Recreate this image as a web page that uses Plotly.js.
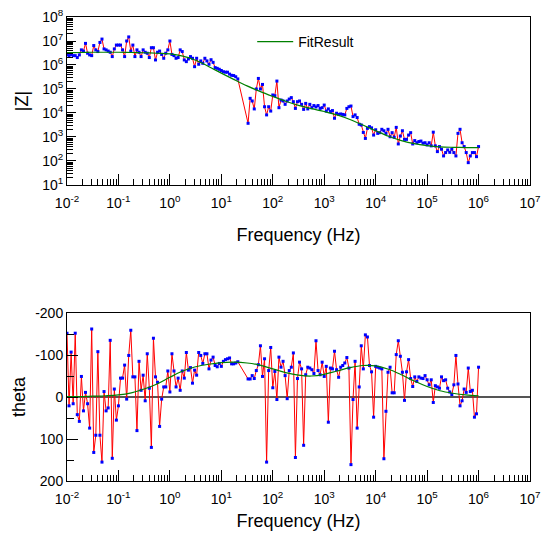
<!DOCTYPE html>
<html>
<head>
<meta charset="utf-8">
<script src="https://cdn.plot.ly/plotly-3.0.1.min.js"></script>
<style>html,body{margin:0;padding:0;background:#fff;}#chart{width:542px;height:542px;}</style>
</head>
<body>
<div id="chart"></div>
<script>
// Measured frequencies, stored as log10(f / Hz)
const logFreq = [
-2.00,-1.96,-1.92,-1.88,-1.84,-1.80,-1.76,-1.72,-1.68,-1.64,
-1.60,-1.56,-1.52,-1.48,-1.44,-1.40,-1.36,-1.32,-1.28,-1.24,
-1.20,-1.16,-1.12,-1.08,-1.04,-1.00,-0.96,-0.92,-0.88,-0.84,
-0.80,-0.76,-0.72,-0.68,-0.64,-0.60,-0.56,-0.52,-0.48,-0.44,
-0.40,-0.36,-0.32,-0.28,-0.24,-0.20,-0.16,-0.12,-0.08,-0.04,
0.00,0.04,0.08,0.12,0.16,0.20,0.24,0.28,0.32,0.36,
0.40,0.44,0.48,0.52,0.56,0.60,0.64,0.68,0.72,0.76,
0.80,0.84,0.88,0.92,0.96,1.00,1.04,1.08,1.12,1.16,
1.20,1.24,1.28,1.32,
1.52,1.56,1.60,1.64,1.68,1.72,1.76,1.80,1.84,1.88,
1.92,1.96,2.00,2.04,2.08,2.12,2.16,2.20,2.24,2.28,
2.32,2.36,2.40,2.44,2.48,2.52,2.56,2.60,2.64,2.68,
2.72,2.76,2.80,2.84,2.88,2.92,2.96,3.00,3.04,3.08,
3.12,3.16,3.20,3.24,3.28,3.32,3.36,3.40,3.44,3.48,
3.52,3.56,3.60,3.64,3.68,3.72,3.76,3.80,3.84,3.88,
3.92,3.96,4.00,4.04,
4.08,4.12,4.16,4.20,4.24,4.28,4.32,4.36,4.40,4.44,
4.48,4.52,4.56,4.60,4.64,4.68,4.72,4.76,4.80,4.84,
4.88,4.92,4.96,5.00,5.04,5.08,5.12,5.16,5.20,5.24,
5.28,5.32,5.36,5.40,5.44,5.48,5.52,5.56,5.60,5.64,
5.68,5.72,5.76,5.80,5.84,5.88,5.92,5.96,6.00
];

// Measured impedance magnitude, stored as log10(|Z|)
const logZ = [
6.44,6.39,6.44,6.39,6.39,6.31,6.42,6.63,6.58,6.90,
6.49,6.42,6.39,6.81,6.63,6.56,6.94,7.08,6.67,6.63,
6.58,6.53,6.35,6.67,6.83,6.83,6.83,6.63,6.35,7.00,
7.17,6.58,6.83,6.35,6.63,6.53,6.35,6.63,6.53,6.49,
6.31,6.72,6.72,6.21,6.53,6.58,6.44,6.28,6.49,6.63,
7.00,6.44,6.39,6.28,6.31,6.63,6.56,6.21,6.14,6.25,
6.35,6.28,5.93,6.28,6.03,6.17,6.07,6.28,6.17,6.03,
6.22,6.11,5.89,5.86,5.82,5.77,5.72,5.70,5.70,5.62,
5.57,5.56,5.51,5.42,
3.57,4.61,4.50,4.17,5.00,5.44,5.00,5.19,4.26,3.92,
4.26,4.08,4.75,4.72,5.33,4.22,4.54,4.50,4.36,4.50,
4.58,4.64,4.47,4.19,4.47,4.50,4.36,4.15,4.40,4.17,
4.36,4.22,4.31,4.25,4.31,4.19,4.22,4.33,4.08,4.17,
4.06,4.10,3.78,3.99,3.94,3.96,3.94,3.92,4.19,4.26,
4.29,3.85,3.92,3.81,3.53,3.50,3.19,2.94,3.36,3.43,
3.38,3.08,3.30,3.15,
3.18,3.32,3.26,3.15,3.32,3.01,3.18,2.99,3.40,2.71,
3.04,3.26,2.90,2.90,3.08,3.18,2.71,2.85,2.76,2.81,
2.83,2.74,2.76,2.67,2.76,2.63,3.20,2.63,2.39,2.60,
2.49,2.21,2.35,2.46,2.36,2.49,2.35,2.21,3.15,3.32,
2.76,2.60,2.35,1.93,2.21,2.35,2.35,2.18,2.60
];

// Measured phase angle (degrees)
const theta = [
-152,21,-107,16,-152,42,58,-49,33,-11,
16,74,-162,132,91,-108,91,155,-13,33,
26,-135,146,-19,55,21,-45,-45,-76,5,
-99,-159,-48,-48,80,-85,-16,-52,9,-103,
-21,120,-140,-48,-35,70,5,-24,-24,-62,
-12,-103,-62,-24,-45,-16,-62,-45,-106,-64,
-70,-33,-64,-52,-106,-99,-80,-103,-103,-67,
-88,-95,-75,-72,-80,-73,-85,-89,-91,-93,
-79,-79,-81,-84,
-43,-43,-51,-44,-63,-77,-122,-49,-91,155,
-63,-118,-22,-61,6,-95,-71,-85,-51,4,
-63,-71,-105,144,-44,-83,-67,115,-53,-71,
-69,-65,-56,-134,-63,-53,-83,-49,-73,60,
-69,-67,-109,-65,-47,-71,-75,-81,-94,-69,
161,6,-85,74,-24,-122,-67,-148,-143,-75,
-60,48,-73,-71,
-69,-67,147,34,-59,-71,-10,-10,-101,-134,
-97,-59,8,-60,-89,-44,-25,-48,-37,-48,
-45,-44,-51,-41,-29,-41,13,-27,-24,-21,
-48,-39,-41,-21,-12,-6,-29,-99,-31,21,
9,-19,-11,-69,-13,-16,48,40,-71
];

// Fit result
const fitLogFreq = [-2,-1.75,-1.5,-1.25,-1,-0.75,-0.5,-0.25,0,0.25,0.5,0.75,1,1.25,1.5,1.75,2,2.25,2.5,2.75,3,3.25,3.5,3.75,4,4.25,4.5,4.75,5,5.25,5.5,5.75,6];
const fitLogZ = [6.52,6.52,6.53,6.53,6.53,6.52,6.51,6.49,6.46,6.37,6.20,5.94,5.66,5.39,5.13,4.90,4.69,4.49,4.32,4.18,4.06,3.92,3.73,3.50,3.26,3.03,2.85,2.72,2.64,2.59,2.57,2.56,2.56];
const fitTheta = [-1,-1,-2,-3,-5,-10,-19,-31,-47,-62,-72,-78,-82,-83,-81,-76,-67,-58,-52,-50,-54,-62,-70,-75,-74,-66,-53,-38,-25,-15,-9,-5,-3];

// Tick labels
const freqTickVals = [1e-2,1e-1,1e0,1e1,1e2,1e3,1e4,1e5,1e6,1e7];
const freqTickText = ['10<sup>-2</sup>','10<sup>-1</sup>','10<sup>0</sup>','10<sup>1</sup>','10<sup>2</sup>','10<sup>3</sup>','10<sup>4</sup>','10<sup>5</sup>','10<sup>6</sup>','10<sup>7</sup>'];
const zTickVals = [1e1,1e2,1e3,1e4,1e5,1e6,1e7,1e8];
const zTickText = ['10<sup>1</sup>','10<sup>2</sup>','10<sup>3</sup>','10<sup>4</sup>','10<sup>5</sup>','10<sup>6</sup>','10<sup>7</sup>','10<sup>8</sup>'];
const thetaTickVals = [-200,-100,0,100,200];
const thetaTickText = ['-200','-100','0','100','200'];
const thetaMinorVals = [-150,-50,50,150];

// build helpers
const pow10 = v => Math.pow(10, v);
const freq = logFreq.map(pow10);
const zMag = logZ.map(pow10);
const fitFreq = fitLogFreq.map(pow10);
const fitZ = fitLogZ.map(pow10);
function logMinors(lo, hi) {
  const out = [];
  for (let e = lo; e < hi; e++) for (let k = 2; k <= 9; k++) out.push(k * Math.pow(10, e));
  return out;
}
const freqMinor = logMinors(-2, 7);
const zMinor = logMinors(1, 8);

const FONT = 'Liberation Sans, Arial, Helvetica, sans-serif';
const axisBase = {
  showline: true, linecolor: '#000', linewidth: 1, mirror: true,
  showgrid: false, zeroline: false,
  ticks: 'inside', tickcolor: '#000', tickwidth: 1,
  tickfont: {family: FONT, size: 14, color: '#000'}
};
function xAxis(anchor, standoff) {
  return Object.assign({}, axisBase, {
    type: 'log', range: [-2, 7], domain: [0, 1], anchor: anchor,
    tickmode: 'array', tickvals: freqTickVals, ticktext: freqTickText,
    ticklen: 11, ticklabelstandoff: 5,
    minor: {tickmode: 'array', tickvals: freqMinor, ticks: 'inside', ticklen: 6, tickcolor: '#000', tickwidth: 1, showgrid: false},
    title: {text: 'Frequency (Hz)', font: {family: FONT, size: 18, color: '#000'}, standoff: standoff}
  });
}

const dataLine = {color: '#ff0000', width: 1};
const dataMarker = {color: '#0000ff', size: 3, symbol: 'square'};
const fitLine = {color: '#008000', width: 1.2, shape: 'spline'};

const traces = [
  {x: freq, y: zMag, xaxis: 'x', yaxis: 'y', mode: 'lines+markers', showlegend: false,
   line: dataLine, marker: dataMarker},
  {x: fitFreq, y: fitZ, xaxis: 'x', yaxis: 'y', mode: 'lines', name: 'FitResult', showlegend: true,
   line: fitLine},
  {x: freq, y: theta, xaxis: 'x2', yaxis: 'y2', mode: 'lines+markers', showlegend: false,
   line: dataLine, marker: dataMarker},
  {x: fitFreq, y: fitTheta, xaxis: 'x2', yaxis: 'y2', mode: 'lines', showlegend: false,
   line: fitLine}
];

const layout = {
  width: 542, height: 542,
  margin: {l: 67, r: 12, t: 17, b: 61, pad: 0},
  paper_bgcolor: '#fff', plot_bgcolor: '#fff',
  font: {family: FONT, size: 14, color: '#000'},
  showlegend: true,
  legend: {x: 0.40, y: 0.946, xanchor: 'left', yanchor: 'middle', bgcolor: 'rgba(0,0,0,0)',
           itemwidth: 36, font: {family: FONT, size: 14, color: '#000'}},
  xaxis: xAxis('y', 18),
  yaxis: Object.assign({}, axisBase, {
    type: 'log', range: [1, 8], domain: [0.638, 1], anchor: 'x',
    tickmode: 'array', tickvals: zTickVals, ticktext: zTickText, ticklen: 9,
    minor: {tickmode: 'array', tickvals: zMinor, ticks: 'inside', ticklen: 6, tickcolor: '#000', tickwidth: 1, showgrid: false},
    title: {text: '|Z|', font: {family: FONT, size: 18, color: '#000'}, standoff: 8}
  }),
  xaxis2: xAxis('y2', 8),
  yaxis2: Object.assign({}, axisBase, {
    range: [200, -200], domain: [0, 0.362], anchor: 'x2',
    tickmode: 'array', tickvals: thetaTickVals, ticktext: thetaTickText, ticklen: 11,
    zeroline: true, zerolinecolor: '#555', zerolinewidth: 1.5,
    minor: {tickmode: 'array', tickvals: thetaMinorVals, ticks: 'inside', ticklen: 7, tickcolor: '#000', tickwidth: 1, showgrid: false},
    title: {text: 'theta', font: {family: FONT, size: 18, color: '#000'}, standoff: 4}
  })
};

Plotly.newPlot('chart', traces, layout, {displayModeBar: false, staticPlot: true});
</script>
</body>
</html>
